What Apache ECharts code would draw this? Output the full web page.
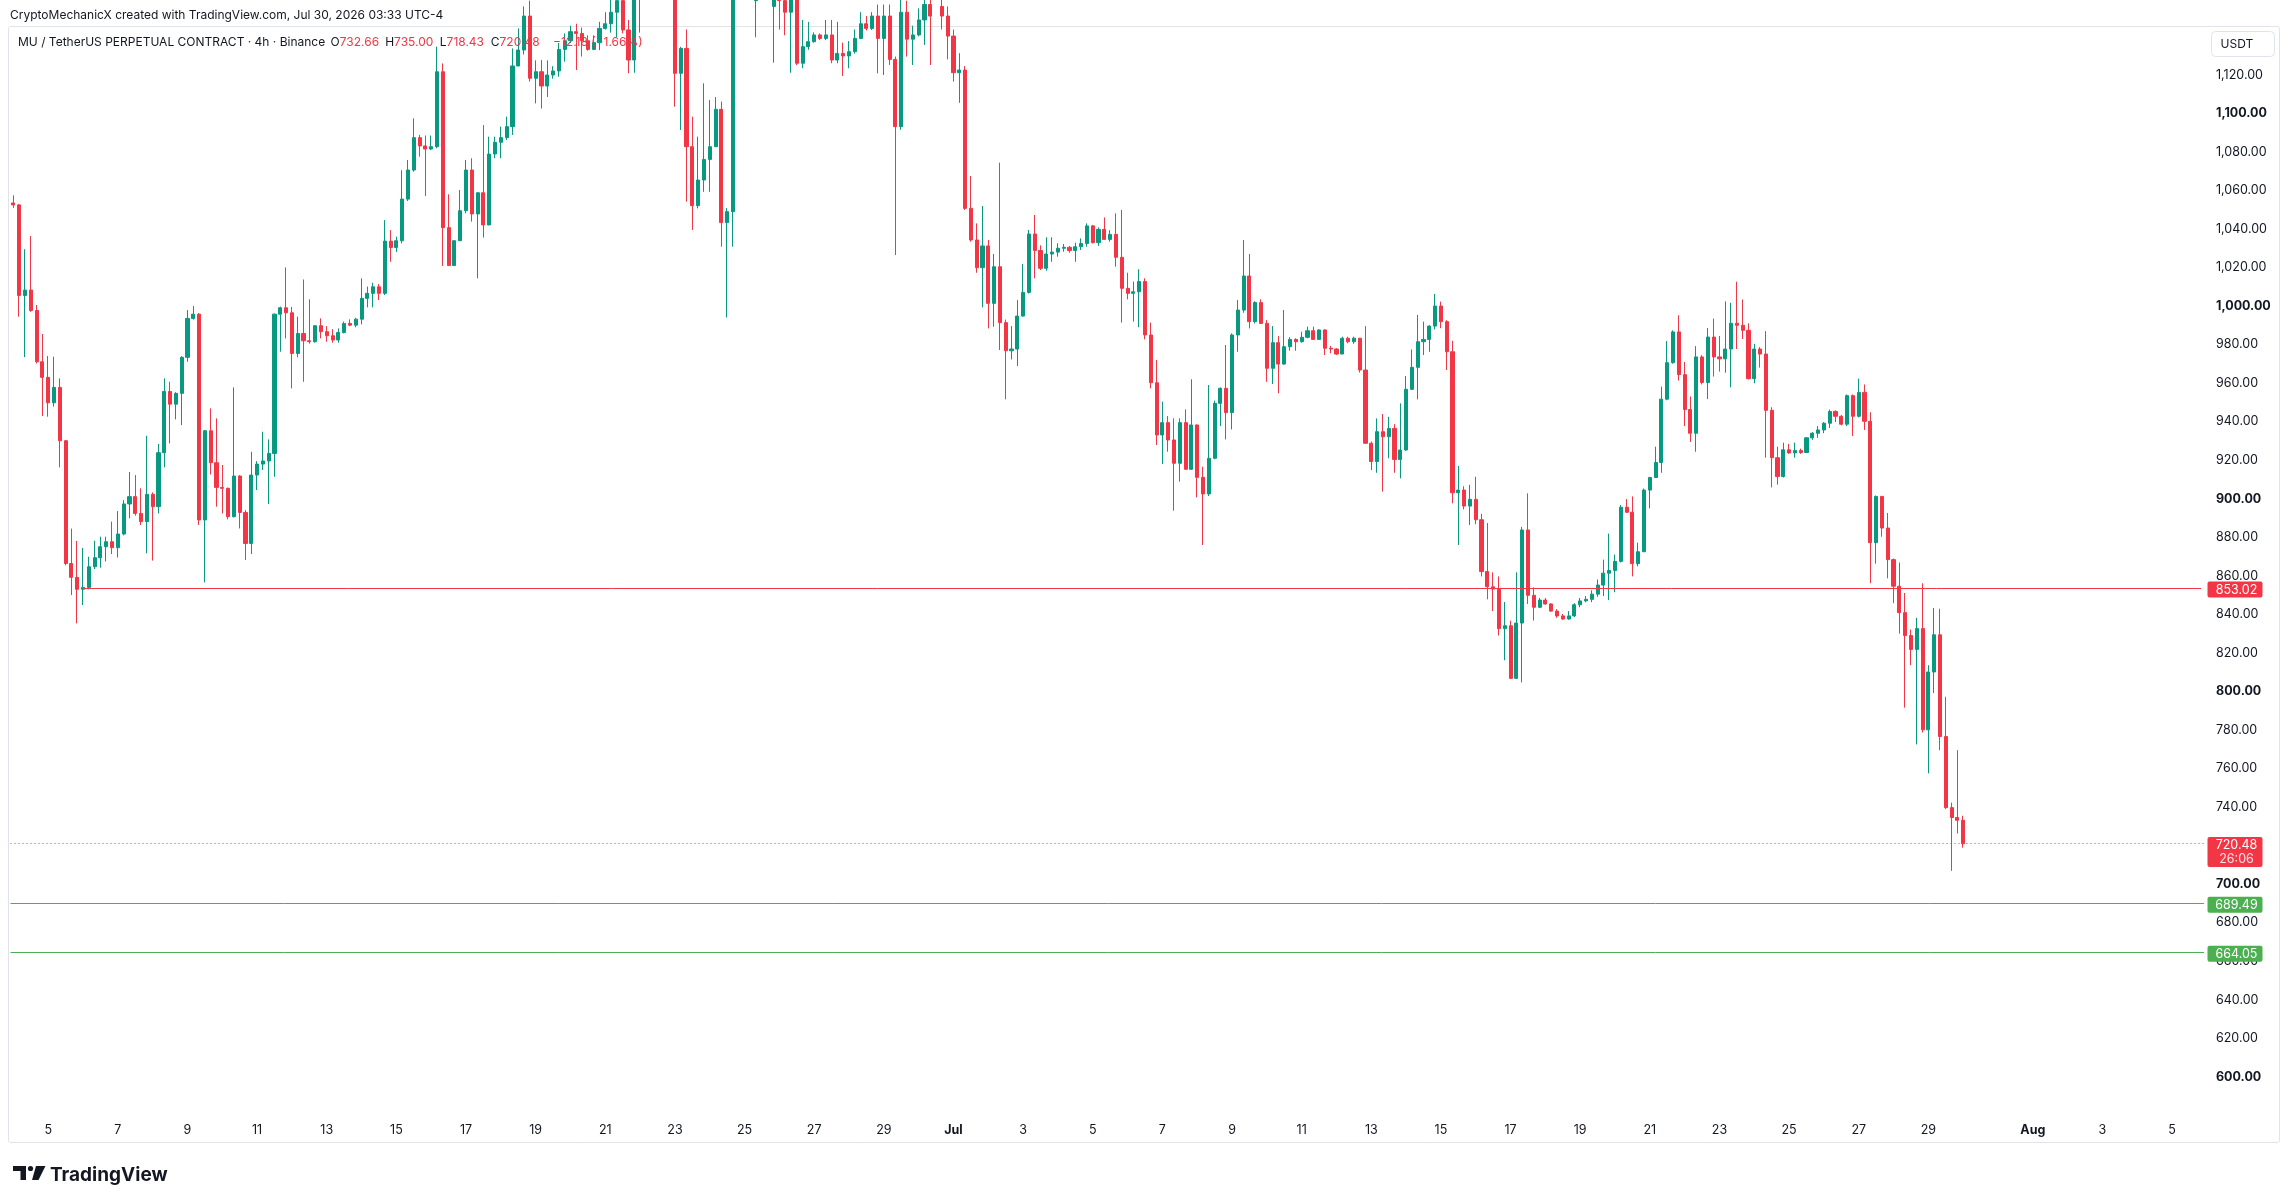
<!DOCTYPE html>
<html>
<head>
<meta charset="utf-8">
<title>MU / TetherUS 4h</title>
<script src="https://cdn.jsdelivr.net/npm/echarts@6.0.0/dist/echarts.min.js"></script>
<style>
  html, body { margin: 0; padding: 0; background: #ffffff; }
  #main { width: 2289px; height: 1203px; }
</style>
</head>
<body>
<div id="main"></div>
<script>
// 4h bars, first bar Jun 4 2026 00:00 (UTC-4), last bar Jul 30 00:00
var opens = [
  1053, 1052, 1005, 1007.8, 997.2, 970.6, 962.5, 949.3, 957.3, 929.6,
  865.9, 858.7, 852.5, 853.5, 864.2, 868.9, 874.6, 877.2, 874.1, 881.2,
  896.8, 900.6, 891.9, 887.6, 901.8, 895.4, 923.4, 955.2, 948.6, 954.2,
  972.9, 993.1, 995.3, 888.5, 934.8, 918.2, 905.4, 904.9, 890.2, 911.3,
  892.4, 876.3, 911.8, 917.5, 919.1, 923, 995.3, 998.6, 996, 974.9,
  985.3, 981.5, 981, 989.3, 986.2, 984.1, 981.9, 985.8, 990.5, 989.6,
  992.7, 1003.5, 1006.1, 1009.5, 1006.1, 1033.2, 1029.9, 1033.4, 1055, 1070.1,
  1086.9, 1082.6, 1081, 1082.2, 1121.1, 1040.2, 1020.5, 1033.4, 1049, 1070.1,
  1047.3, 1058.3, 1041.6, 1078.4, 1084.5, 1086.9, 1092.6, 1124.1, 1132.4, 1150,
  1117.7, 1121.1, 1113.7, 1119.4, 1121.5, 1132.7, 1137.2, 1141.9, 1141, 1137.2,
  1132.7, 1136.2, 1143.6, 1146, 1152, 1158, 1142.8, 1127.2, 1160, 1170,
  1175, 1168, 1180, 1172, 1165, 1120.3, 1133.2, 1082.2, 1051.6, 1064.9,
  1075.6, 1082.2, 1101.6, 1042.8, 1048.5, 1160, 1172, 1165, 1158, 1166,
  1160, 1155, 1162, 1158, 1152, 1160, 1125.5, 1134.1, 1136.7, 1140.2,
  1138.4, 1140.2, 1127.2, 1130.6, 1129.3, 1131.5, 1138.4, 1146, 1143.6, 1150,
  1138.4, 1150, 1127.5, 1092.6, 1152, 1138, 1140.2, 1148, 1156, 1150,
  1155, 1150, 1139.6, 1120.6, 1122, 1050.2, 1033.8, 1019.4, 1030.7, 1000.9,
  1019.9, 990.9, 976.3, 977.2, 994.3, 1006.6, 1036.9, 1028.3, 1019.1, 1026.5,
  1027.5, 1029.5, 1030, 1028.3, 1030.3, 1032, 1041.1, 1032.4, 1039.3, 1034.1,
  1036.7, 1024.8, 1008.7, 1006.1, 1006.9, 1012.2, 984.5, 959.7, 932.6, 939,
  930, 917.9, 939, 914.8, 937.8, 910.6, 902, 920.5, 949, 956.8,
  944.2, 984.5, 997.4, 1015.1, 991.4, 1001.3, 990.5, 967.2, 980.5, 969.4,
  978.4, 982.2, 981, 983.3, 986.7, 982.2, 987.1, 977.6, 977.2, 974.6,
  982.8, 981, 982.8, 966.3, 928.3, 918.8, 934.3, 931.7, 936, 919.9,
  924.8, 956.3, 967.7, 981, 982.2, 989.1, 999.5, 991.4, 975.8, 902.6,
  904, 895.7, 899.2, 888.6, 861.7, 853.8, 852.6, 832.1, 833.6, 806.3,
  835, 883.3, 849.4, 843.2, 846.9, 844.9, 841.2, 838.7, 837.1, 838.7,
  844.5, 846.5, 847.3, 850, 854.7, 860.9, 862.3, 867, 895.1, 892.5,
  865.8, 872, 904, 910.5, 918.3, 951.2, 970.1, 986.1, 963.9, 945.8,
  933.5, 973.1, 959.8, 983.4, 973.1, 972.1, 977.2, 990.6, 989.5, 986.9,
  961.8, 977.2, 974.6, 945.4, 920.8, 911, 924.9, 923.3, 924.5, 923.5,
  931.1, 933.5, 935.2, 938.7, 944.8, 942.3, 938.2, 953, 942.3, 954.7,
  939.7, 876.7, 900.7, 884.3, 867.9, 854.1, 840.4, 828.5, 821.3, 832.1,
  779.6, 809.6, 828.9, 776.1, 739.2, 734.1, 732.66
];
var closes = [
  1052, 1005, 1007.8, 997.2, 970.6, 962.5, 949.3, 957.3, 929.6, 865.9,
  858.7, 852.5, 853.5, 864.2, 868.9, 874.6, 877.2, 874.1, 881.2, 896.8,
  900.6, 891.9, 887.6, 901.8, 895.4, 923.4, 955.2, 948.6, 954.2, 972.9,
  993.1, 995.3, 888.5, 934.8, 918.2, 905.4, 904.9, 890.2, 911.3, 892.4,
  876.3, 911.8, 917.5, 919.1, 923, 995.3, 998.6, 996, 974.9, 985.3,
  981.5, 981, 989.3, 986.2, 984.1, 981.9, 985.8, 990.5, 989.6, 992.7,
  1003.5, 1006.1, 1009.5, 1006.1, 1033.2, 1029.9, 1033.4, 1055, 1070.1, 1086.9,
  1082.6, 1081, 1082.2, 1121.1, 1040.2, 1020.5, 1033.4, 1049, 1070.1, 1047.3,
  1058.3, 1041.6, 1078.4, 1084.5, 1086.9, 1092.6, 1124.1, 1132.4, 1150, 1117.7,
  1121.1, 1113.7, 1119.4, 1121.5, 1132.7, 1137.2, 1141.9, 1141, 1137.2, 1132.7,
  1136.2, 1143.6, 1146, 1152, 1158, 1142.8, 1127.2, 1160, 1170, 1175,
  1168, 1180, 1172, 1165, 1120.3, 1133.2, 1082.2, 1051.6, 1064.9, 1075.6,
  1082.2, 1101.6, 1042.8, 1048.5, 1160, 1172, 1165, 1158, 1166, 1160,
  1155, 1162, 1158, 1152, 1160, 1125.5, 1134.1, 1136.7, 1140.2, 1138.4,
  1140.2, 1127.2, 1130.6, 1129.3, 1131.5, 1138.4, 1146, 1143.6, 1150, 1138.4,
  1150, 1127.5, 1092.6, 1152, 1138, 1140.2, 1148, 1156, 1150, 1155,
  1150, 1139.6, 1120.6, 1122, 1050.2, 1033.8, 1019.4, 1030.7, 1000.9, 1019.9,
  990.9, 976.3, 977.2, 994.3, 1006.6, 1036.9, 1028.3, 1019.1, 1026.5, 1027.5,
  1029.5, 1030, 1028.3, 1030.3, 1032, 1041.1, 1032.4, 1039.3, 1034.1, 1036.7,
  1024.8, 1008.7, 1006.1, 1006.9, 1012.2, 984.5, 959.7, 932.6, 939, 930,
  917.9, 939, 914.8, 937.8, 910.6, 902, 920.5, 949, 956.8, 944.2,
  984.5, 997.4, 1015.1, 991.4, 1001.3, 990.5, 967.2, 980.5, 969.4, 978.4,
  982.2, 981, 983.3, 986.7, 982.2, 987.1, 977.6, 977.2, 974.6, 982.8,
  981, 982.8, 966.3, 928.3, 918.8, 934.3, 931.7, 936, 919.9, 924.8,
  956.3, 967.7, 981, 982.2, 989.1, 999.5, 991.4, 975.8, 902.6, 904,
  895.7, 899.2, 888.6, 861.7, 853.8, 852.6, 832.1, 833.6, 806.3, 835,
  883.3, 849.4, 843.2, 846.9, 844.9, 841.2, 838.7, 837.1, 838.7, 844.5,
  846.5, 847.3, 850, 854.7, 860.9, 862.3, 867, 895.1, 892.5, 865.8,
  872, 904, 910.5, 918.3, 951.2, 970.1, 986.1, 963.9, 945.8, 933.5,
  973.1, 959.8, 983.4, 973.1, 972.1, 977.2, 990.6, 989.5, 986.9, 961.8,
  977.2, 974.6, 945.4, 920.8, 911, 924.9, 923.3, 924.5, 923.5, 931.1,
  933.5, 935.2, 938.7, 944.8, 942.3, 938.2, 953, 942.3, 954.7, 939.7,
  876.7, 900.7, 884.3, 867.9, 854.1, 840.4, 828.5, 821.3, 832.1, 779.6,
  809.6, 828.9, 776.1, 739.2, 734.1, 732.66, 720.48
];
var lows = [
  1050.5, 994, 973, 996.5, 969.7, 942.4, 942.1, 947.3, 915.8, 865,
  849.5, 834.8, 844.3, 852.5, 863, 863.7, 867, 870.8, 869, 880.5,
  889.3, 890.7, 885.9, 871.2, 867.4, 891.9, 915.8, 928.2, 940.7, 937.7,
  970.6, 992.5, 885.9, 856.1, 912.1, 895.4, 891.9, 888.8, 889.8, 884.1,
  867.7, 870.8, 904, 914.4, 896.8, 910.9, 975.8, 982.7, 956.8, 972.9,
  960.2, 980, 980.5, 982.7, 981, 980.5, 980.5, 985.3, 989.1, 988.5,
  990, 998.8, 998.8, 1002.6, 1005.2, 1022.5, 1027.6, 1032, 1054, 1069.2,
  1077, 1056.6, 1080.4, 1081.4, 1020.3, 1020.3, 1020.3, 1033.4, 1047.6, 1043.3,
  1013.9, 1035, 1041.5, 1076.2, 1076.2, 1085.7, 1088.3, 1124, 1130, 1116,
  1104.7, 1102, 1108, 1117.5, 1118.5, 1126.3, 1136, 1122, 1129, 1132,
  1132.3, 1132.3, 1143, 1141.4, 1139, 1141, 1120.3, 1120.6, 1141.4, 1160,
  1158, 1162, 1160, 1152, 1103, 1090.9, 1053.7, 1039, 1050.2, 1058.8,
  1058.8, 1082, 1030.3, 993.6, 1030.3, 1150, 1155, 1150, 1139, 1152,
  1148, 1125.8, 1143, 1140, 1120.6, 1124.5, 1122.9, 1132.5, 1136.2, 1137.5,
  1137.5, 1125.5, 1125.5, 1118.9, 1122.9, 1130.5, 1138, 1142.5, 1142.8, 1120.3,
  1119.4, 1124.6, 1026, 1091, 1129, 1124.6, 1139.5, 1135, 1124.6, 1146,
  1143, 1127.5, 1116, 1105, 1049.4, 1032.9, 1016.8, 998.8, 987.9, 988.8,
  976.7, 951.1, 971.8, 968.4, 994, 1006, 1013.9, 1018.2, 1017.8, 1022.5,
  1025.1, 1027.7, 1027.2, 1022.5, 1028.6, 1030.3, 1032, 1030.7, 1033.8, 1032.9,
  1019.9, 990.9, 1003, 991.4, 988.5, 982.2, 956.8, 927.4, 917.5, 923.9,
  893.3, 908.4, 914.5, 914.5, 900.2, 875.5, 900.9, 920, 937.2, 930.3,
  935.5, 975.8, 996, 987.9, 990.5, 990.2, 960.2, 959, 954.2, 969,
  976.3, 976.3, 980.5, 982.8, 982.2, 981.9, 974.1, 975, 974.1, 974.6,
  980.2, 979.9, 965, 927.9, 914.4, 913, 903.2, 920.5, 913, 910.1,
  924.4, 955.9, 951.1, 974.1, 975.8, 987.4, 988, 966.3, 897.1, 875.5,
  894, 885.9, 886.3, 859.2, 847.3, 841.2, 828.5, 815.7, 805.9, 805.9,
  804.2, 844.9, 836.3, 842.8, 844.5, 840.8, 837.7, 836.7, 836.7, 838.1,
  843.2, 845.8, 845.8, 848.6, 849, 846.9, 851, 866.4, 892.1, 859.2,
  864.4, 872, 894.5, 910.3, 913, 950.6, 969.6, 960.8, 937.2, 929,
  923.9, 958.8, 951.2, 962.9, 965.5, 964.9, 957.3, 977.2, 982.4, 961.4,
  959.4, 967.6, 920.8, 905.4, 906.8, 910.5, 922.8, 920.8, 922.8, 923.3,
  930.1, 931.1, 933.5, 936.2, 939.3, 937.6, 937.2, 932.1, 941.7, 935.2,
  855.6, 865.8, 879.8, 858.2, 845.3, 829.5, 791.1, 813.1, 772, 778.2,
  757, 798.7, 769, 738.5, 706.4, 725.8, 718.43
];
var highs = [
  1057, 1052.5, 1029, 1035.8, 1000, 985, 973.6, 973.2, 962, 930,
  884, 877.6, 874, 869.4, 877.7, 879.8, 879.8, 887.6, 893.1, 898.8,
  913.4, 911.8, 904.9, 932.2, 902.8, 927.9, 962, 960.2, 954.8, 973.5,
  997.4, 999.5, 995.8, 935.2, 946.4, 941.2, 917, 905.3, 957.3, 911.8,
  893.6, 923.9, 919, 934.3, 930.3, 995.6, 999.2, 1019.6, 999, 994,
  1013.3, 1003, 989.6, 993.1, 989.1, 987.5, 987.9, 991.4, 992.6, 993.4,
  1013.9, 1009.6, 1011.6, 1010.9, 1044.1, 1038.9, 1035.5, 1070, 1075.3, 1096.9,
  1088.3, 1088, 1088, 1134.1, 1125.4, 1057.5, 1033.6, 1059.7, 1075.3, 1076.2,
  1058.5, 1093.4, 1087.4, 1087.4, 1092.6, 1097.8, 1133.2, 1143.6, 1155, 1158,
  1127, 1127.2, 1127, 1124, 1136, 1141, 1145, 1146, 1144, 1140,
  1140, 1147, 1152, 1160, 1166, 1162, 1148, 1166, 1178, 1185,
  1182, 1190, 1188, 1178, 1168, 1134, 1143, 1097.8, 1087.4, 1115.1,
  1106.4, 1108, 1105.6, 1050.3, 1168, 1182, 1180, 1172, 1174, 1175,
  1168, 1170, 1168, 1164, 1166, 1164, 1148, 1147, 1141.5, 1141,
  1148, 1148, 1147, 1136.2, 1137, 1143, 1152, 1150, 1152, 1156,
  1156, 1156, 1129, 1160, 1158, 1145, 1154, 1162, 1165, 1162,
  1160, 1155, 1143, 1130.7, 1124, 1067, 1042.4, 1051.4, 1033.8, 1026.5,
  1073.9, 992.5, 989.1, 1002.6, 1021.3, 1039, 1046.8, 1031, 1035.2, 1035.2,
  1032.1, 1031.7, 1030.7, 1032.4, 1034.6, 1042.4, 1041.6, 1040.3, 1045.5, 1038.9,
  1047.6, 1049.4, 1016.8, 1012.2, 1018.6, 1013.9, 990.9, 971.5, 949.9, 942.4,
  941.2, 941.2, 945.9, 961.5, 938, 916.1, 958.5, 950.4, 957.3, 979.3,
  985.3, 1002.6, 1033.8, 1026.5, 1002, 1003, 992.2, 989.1, 983.9, 997.4,
  983.3, 982.8, 986.2, 988.8, 988.8, 987.4, 987.4, 978.8, 977.6, 983.6,
  983.6, 983.6, 983, 989.1, 929.2, 941.2, 943.5, 942, 938.2, 949,
  963.2, 977, 994.9, 991.4, 989.6, 1005.8, 1001.8, 992.2, 981.5, 916.5,
  906, 906.7, 910.9, 891.7, 886.9, 861.3, 859.2, 845.9, 836.2, 861.3,
  884.9, 902.3, 853.5, 848, 848, 845.3, 842.2, 839.7, 841.2, 845.3,
  848, 849, 852, 857.6, 867.9, 881.4, 870.5, 896.2, 899.3, 900.7,
  876.7, 904.8, 910.9, 926.5, 957.7, 981.3, 986.9, 994.7, 970.5, 952.6,
  978.7, 974, 988.1, 993, 984, 1001.9, 1001.2, 1012.1, 1002.9, 990.5,
  979.9, 978.2, 986.5, 947, 926.5, 928.6, 928, 928.6, 925.5, 931.5,
  934.1, 937.2, 939.3, 945.8, 945.4, 942.9, 953.6, 953.6, 961.8, 958.8,
  944.4, 901.2, 901, 892.1, 868.5, 866.4, 850.6, 831.6, 837.7, 855.6,
  813.1, 842.8, 842.4, 796.7, 741.8, 769, 735
];

// time axis labels (bar at 00:00 of these days)
var xTickDates = [
  '2026-06-05', '2026-06-07', '2026-06-09', '2026-06-11', '2026-06-13', '2026-06-15',
  '2026-06-17', '2026-06-19', '2026-06-21', '2026-06-23', '2026-06-25', '2026-06-27',
  '2026-06-29', '2026-07-01', '2026-07-03', '2026-07-05', '2026-07-07', '2026-07-09',
  '2026-07-11', '2026-07-13', '2026-07-15', '2026-07-17', '2026-07-19', '2026-07-21',
  '2026-07-23', '2026-07-25', '2026-07-27', '2026-07-29', '2026-08-01', '2026-08-03',
  '2026-08-05'
];
var xTickLabels = [
  '5', '7', '9', '11', '13', '15', '17', '19', '21', '23', '25', '27', '29',
  'Jul', '3', '5', '7', '9', '11', '13', '15', '17', '19', '21', '23', '25', '27', '29',
  'Aug', '3', '5'
];

// horizontal levels
var levelValues = [853.02, 689.49, 664.05];
var levelColors = ['#F23645', '#4CAF50', '#4CAF50'];
var levelStart = ['2026-06-06 00:00', null, null];
var lastPrice = 720.48;
var countdown = '26:06';

// legend
var legendTitle = 'MU / TetherUS PERPETUAL CONTRACT \u00b7 4h \u00b7 Binance';
var legendKeys = ['O', 'H', 'L', 'C'];
var legendVals = ['732.66', '735.00', '718.43', '720.48'];
var legendChange = '\u221212.18 (\u22121.66%)';

var UP = '#089981';
var DOWN = '#F23645';
var TXT = '#131722';
var FONT = 'Inter, "Noto Sans", sans-serif';

// slots incl. empty space right of the last bar
var slotCount = 378;
function pad(n) { return n < 10 ? '0' + n : '' + n; }
var categories = [];
var t0 = Date.UTC(2026, 5, 4, 0, 0);
for (var k = 0; k < slotCount; k++) {
  var d = new Date(t0 + k * 4 * 3600 * 1000);
  categories.push(d.getUTCFullYear() + '-' + pad(d.getUTCMonth() + 1) + '-' + pad(d.getUTCDate()) +
    ' ' + pad(d.getUTCHours()) + ':' + pad(d.getUTCMinutes()));
}
var tickMap = {};
xTickDates.forEach(function (dt, j) { tickMap[dt + ' 00:00'] = xTickLabels[j]; });

var candles = [];
for (var i = 0; i < opens.length; i++) {
  candles.push([opens[i], closes[i], lows[i], highs[i]]);
}

function fmtPrice(v) {
  var p = v.toFixed(2).split('.');
  p[0] = p[0].replace(/\B(?=(\d{3})+(?!\d))/g, ',');
  return p.join('.');
}

// level lines
var markData = [];
levelValues.forEach(function (v, j) {
  if (levelStart[j]) {
    markData.push([
      { coord: [levelStart[j], v], lineStyle: { color: levelColors[j], type: 'solid', width: 1 } },
      { coord: [categories[slotCount - 1], v] }
    ]);
  } else {
    markData.push({ yAxis: v, lineStyle: { color: levelColors[j], type: 'solid', width: 1 } });
  }
});
markData.push({ yAxis: lastPrice, lineStyle: { color: DOWN, type: [1, 3], width: 1 } });

var chartDom = document.getElementById('main');
var myChart = echarts.init(chartDom);

var staticGraphic = [
  // outer frame
  { type: 'rect', id: 'frame', z: 1, shape: { x: 8.5, y: 26.5, width: 2271, height: 1116, r: 2 },
    style: { fill: 'none', stroke: '#e0e3eb', lineWidth: 1 } },
  { type: 'text', id: 'hdr', z: 100, x: 10, y: 15.7,
    style: { text: 'CryptoMechanicX created with TradingView.com, Jul 30, 2026 03:33 UTC-4',
      font: '12px ' + FONT, fill: TXT, textVerticalAlign: 'middle' } },
  { type: 'text', id: 'lgTitle', z: 100, x: 18, y: 42.7,
    style: { text: legendTitle, font: '12px ' + FONT, fill: TXT, textVerticalAlign: 'middle' } },
  { type: 'rect', id: 'usdtBox', z: 100, shape: { x: 2211.5, y: 31.5, width: 63, height: 25, r: 4 },
    style: { fill: '#ffffff', stroke: '#e0e3eb', lineWidth: 1 } },
  { type: 'text', id: 'usdt', z: 101, x: 2220.5, y: 44,
    style: { text: 'USDT', font: '12px ' + FONT, fill: TXT, textVerticalAlign: 'middle' } },
  // TradingView logo
  { type: 'polygon', id: 'logo1', z: 100,
    shape: { points: [[13, 1166], [26, 1166], [26, 1180], [20.5, 1180], [20.5, 1171], [13, 1171]] },
    style: { fill: TXT } },
  { type: 'circle', id: 'logo2', z: 100, shape: { cx: 30.5, cy: 1168.5, r: 2.6 }, style: { fill: TXT } },
  { type: 'polygon', id: 'logo3', z: 100,
    shape: { points: [[36, 1166], [45.5, 1166], [38.5, 1180], [32, 1180]] },
    style: { fill: TXT } },
  { type: 'text', id: 'logoTxt', z: 100, x: 50, y: 1175.5,
    style: { text: 'TradingView', font: 'bold 19px ' + FONT, fill: TXT, textVerticalAlign: 'middle' } }
];
var legendX = [330.6, 385.2, 439.8, 490.8];
legendKeys.forEach(function (key, j) {
  staticGraphic.push({ type: 'text', id: 'lg' + key, z: 100, x: legendX[j], y: 42.7,
    style: { text: '{k|' + key + '}{v|' + legendVals[j] + '}', textVerticalAlign: 'middle',
      rich: { k: { font: '12px ' + FONT, fill: TXT }, v: { font: '12px ' + FONT, fill: DOWN } } } });
});
staticGraphic.push({ type: 'text', id: 'lgChg', z: 100, x: 553, y: 42.7,
  style: { text: legendChange, font: '12px ' + FONT, fill: DOWN, textVerticalAlign: 'middle' } });

var option = {
  animation: false,
  backgroundColor: '#ffffff',
  grid: { left: 10.5, right: 85, top: 27, bottom: 88.6, outerBoundsMode: 'none' },
  xAxis: {
    type: 'category',
    data: categories,
    boundaryGap: true,
    axisLine: { show: false },
    axisTick: { show: false },
    splitLine: { show: false },
    axisLabel: {
      margin: 9,
      interval: function (index, value) { return tickMap.hasOwnProperty(value); },
      formatter: function (value) {
        var t = tickMap[value];
        if (t === undefined) return '';
        return (t === 'Jul' || t === 'Aug') ? '{m|' + t + '}' : '{d|' + t + '}';
      },
      rich: {
        d: { fontFamily: FONT, fontSize: 12.5, color: TXT },
        m: { fontFamily: FONT, fontSize: 12.5, color: TXT, fontWeight: 'bold' }
      }
    }
  },
  yAxis: {
    type: 'value',
    position: 'right',
    min: 580,
    max: 1144.32,
    interval: 20,
    splitLine: { show: false },
    axisLine: { show: false },
    axisTick: { show: false },
    axisLabel: {
      margin: 12,
      formatter: function (v) {
        v = Math.round(v * 100) / 100;
        if (v < 600 || v > 1120) return '';
        var s = fmtPrice(v);
        return (v % 100 === 0) ? '{b|' + s + '}' : '{n|' + s + '}';
      },
      rich: {
        n: { fontFamily: FONT, fontSize: 12.5, color: TXT, padding: [2, 0, 0, 0] },
        b: { fontFamily: FONT, fontSize: 12.5, color: TXT, fontWeight: 'bold', padding: [2, 0, 0, 0] }
      }
    }
  },
  series: [{
    type: 'candlestick',
    data: candles,
    barWidth: 3.6,
    clip: true,
    itemStyle: {
      color: UP, color0: DOWN, borderColor: UP, borderColor0: DOWN, borderWidth: 1
    },
    markLine: {
      silent: true,
      symbol: ['none', 'none'],
      label: { show: false },
      data: markData
    }
  }],
  graphic: staticGraphic
};
myChart.setOption(option);

// price tags on the axis, placed through the y scale
var tags = [];
function addTag(id, value, color, line2) {
  var py = myChart.convertToPixel({ yAxisIndex: 0 }, value);
  var h = line2 ? 30 : 16;
  var top = py - 6.7;
  tags.push({ type: 'rect', id: id + 'Box', z: 200,
    shape: { x: 2207.5, y: top, width: 55, height: h, r: 2 }, style: { fill: color } });
  tags.push({ type: 'text', id: id + 'Txt', z: 201, x: 2236.5, y: py + 1.6,
    style: { text: value.toFixed(2), font: '12.5px ' + FONT, fill: '#ffffff',
      textAlign: 'center', textVerticalAlign: 'middle' } });
  if (line2) {
    tags.push({ type: 'text', id: id + 'Txt2', z: 201, x: 2236.5, y: py + 15.6,
      style: { text: line2, font: '12.5px ' + FONT, fill: 'rgba(255,255,255,0.85)',
        textAlign: 'center', textVerticalAlign: 'middle' } });
  }
}
levelValues.forEach(function (v, j) { addTag('lvl' + j, v, levelColors[j]); });
addTag('last', lastPrice, DOWN, countdown);
myChart.setOption({ graphic: staticGraphic.concat(tags) });
</script>
</body>
</html>
